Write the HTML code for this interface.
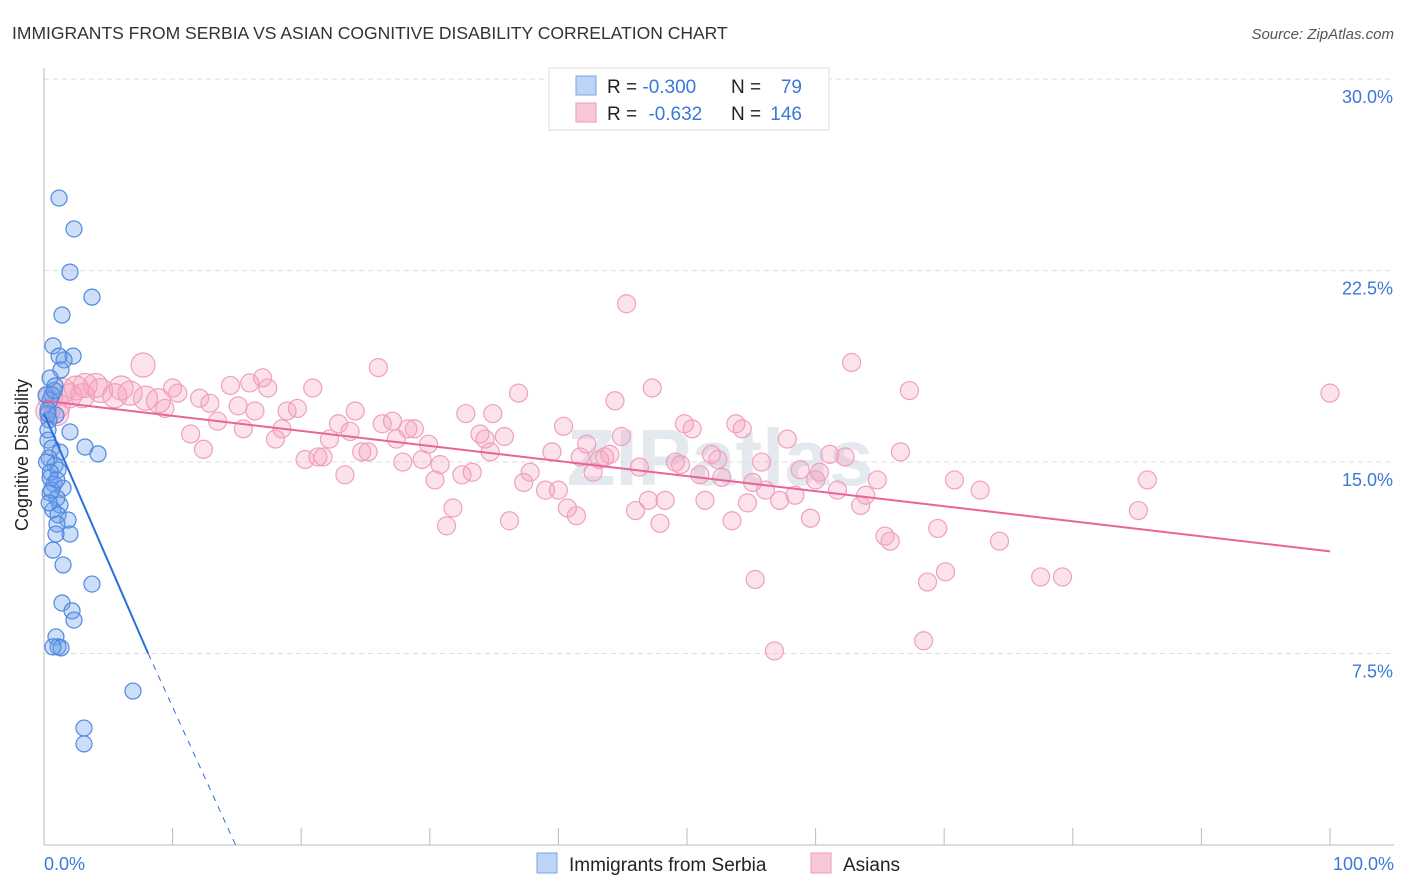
<!DOCTYPE html>
<html><head><meta charset="utf-8"><style>
body{margin:0;background:#fff;font-family:"Liberation Sans",sans-serif;}
svg{display:block}
</style></head><body>
<svg width="1406" height="892" id="chart">
<text x="12" y="39" font-size="17.5" fill="#333">IMMIGRANTS FROM SERBIA VS ASIAN COGNITIVE DISABILITY CORRELATION CHART</text>
<text x="1394" y="39" font-size="15" fill="#555" font-style="italic" text-anchor="end">Source: ZipAtlas.com</text>
<text x="720" y="485" font-size="80" fill="#e4e8ef" text-anchor="middle" font-weight="bold">ZIPatlas</text>
<g id="grid"></g>
<g id="axes"></g>
<g id="trend"></g>
<g id="pts"></g>
<text x="28" y="455" font-size="18" fill="#222" text-anchor="middle" transform="rotate(-90 28 455)">Cognitive Disability</text>
<text x="44" y="870" font-size="18" fill="#3b78d8">0.0%</text>
<text x="1394" y="870" font-size="18" fill="#3b78d8" text-anchor="end">100.0%</text>
<g>
<rect x="549" y="68" width="280" height="62" fill="#fff" stroke="#ddd"/>
<rect x="576" y="76" width="20" height="19" fill="#bcd4f5" stroke="#7aa6e6"/>
<rect x="576" y="103" width="20" height="19" fill="#f9c8d8" stroke="#ee9ab8"/>
<text x="607" y="93" font-size="19" fill="#222">R = <tspan fill="#3b78d8">-0.300</tspan></text>
<text x="731" y="93" font-size="19" fill="#222">N =</text><text x="802" y="93" font-size="19" fill="#3b78d8" text-anchor="end">79</text>
<text x="607" y="120" font-size="19" fill="#222">R = <tspan fill="#3b78d8" dx="6">-0.632</tspan></text>
<text x="731" y="120" font-size="19" fill="#222">N =</text><text x="802" y="120" font-size="19" fill="#3b78d8" text-anchor="end">146</text>
</g>
<g>
<rect x="537" y="853" width="20" height="20" fill="#bcd4f5" stroke="#7aa6e6"/>
<text x="569" y="871" font-size="19" fill="#222">Immigrants from Serbia</text>
<rect x="811" y="853" width="20" height="20" fill="#f9c8d8" stroke="#ee9ab8"/>
<text x="843" y="871" font-size="19" fill="#222">Asians</text>
</g>
</svg>
<script>
const yTicks=[7.5,15,22.5,30];
const yTickLabels=["7.5%","15.0%","22.5%","30.0%"];
const xTicks=[0,10,20,30,40,50,60,70,80,90,100];
const blueX=[1.17,2.33,2.02,3.73,1.40,0.70,1.17,2.26,1.56,1.32,0.47,0.86,0.62,0.47,0.31,0.93,0.39,2.02,0.31,0.62,1.24,3.19,4.20,0.39,0.86,1.09,0.47,0.78,1.48,0.47,1.01,1.24,0.70,1.09,1.87,1.01,2.02,0.93,0.70,1.48,3.73,1.40,2.18,2.33,0.93,1.09,1.32,0.70,6.92,3.11,3.11,0.31,0.16,0.2,0.5,0.6,0.3,0.8,1.0,0.4];
const blueY=[25.34,24.13,22.44,21.46,20.76,19.55,19.15,19.15,19.0,18.61,18.29,17.98,17.63,17.43,17.04,16.84,16.65,16.18,15.86,15.55,15.39,15.59,15.32,15.16,14.88,14.69,14.38,14.14,13.98,13.79,13.59,13.32,13.12,12.93,12.73,12.57,12.18,12.18,11.55,10.97,10.22,9.48,9.17,8.81,8.15,7.76,7.72,7.76,6.03,4.58,3.96,16.26,17.63,15.0,14.6,13.9,16.9,17.8,14.3,13.4];
const pinkX=[1.1,2.0,3.2,4.4,5.5,6.7,7.9,8.9,9.4,10.0,10.4,11.4,12.1,12.4,12.9,13.5,14.5,15.1,15.5,16.0,16.4,17.0,17.4,18.0,18.5,18.9,19.7,20.3,20.9,21.3,21.7,22.2,22.9,23.4,23.8,24.2,24.7,25.2,26.0,26.3,27.1,27.4,27.9,28.3,28.8,29.4,29.9,30.4,30.8,31.3,31.8,32.5,32.8,33.3,33.9,34.3,34.7,34.9,35.8,36.2,36.9,37.3,37.8,39.0,39.5,40.0,40.4,40.7,41.4,41.7,42.2,42.7,43.2,43.6,44.0,44.4,44.9,45.3,46.0,46.3,47.0,47.3,47.9,48.3,49.1,49.5,49.8,50.4,51.0,51.4,51.9,52.4,52.7,53.5,53.8,54.3,54.7,55.1,55.3,55.8,56.1,56.8,57.2,57.8,58.4,58.8,59.6,60.0,60.3,61.1,61.7,62.3,62.8,63.5,63.9,64.8,65.4,65.8,66.6,67.3,68.4,68.7,69.5,70.1,70.8,72.8,74.3,77.5,79.2,85.1,85.8,100.0,0.5,1.5,2.5,1.0,3.0,4.0,0.3,6.0,7.7];
const pinkY=[17.2,17.6,18.0,17.8,17.6,17.7,17.5,17.4,17.1,17.9,17.7,16.1,17.5,15.5,17.3,16.6,18.0,17.2,16.3,18.1,17.0,18.3,17.9,15.9,16.3,17.0,17.1,15.1,17.9,15.2,15.2,15.9,16.5,14.5,16.2,17.0,15.4,15.4,18.7,16.5,16.6,15.9,15.0,16.3,16.3,15.1,15.7,14.3,14.9,12.5,13.2,14.5,16.9,14.6,16.1,15.9,15.4,16.9,16.0,12.7,17.7,14.2,14.6,13.9,15.4,13.9,16.4,13.2,12.9,15.2,15.7,14.6,15.1,15.2,15.3,17.4,16.0,21.2,13.1,14.8,13.5,17.9,12.6,13.5,15.0,14.9,16.5,16.3,14.5,13.5,15.3,15.1,14.4,12.7,16.5,16.3,13.4,14.2,10.4,15.0,13.9,7.6,13.5,15.9,13.7,14.7,12.8,14.3,14.6,15.3,13.9,15.2,18.9,13.3,13.7,14.3,12.1,11.9,15.4,17.8,8.0,10.3,12.4,10.7,14.3,13.9,11.9,10.5,10.5,13.1,14.3,17.7,17.5,17.8,17.9,16.9,17.6,18.0,17.0,17.9,18.8];
const blueTrend=[[0,16.9],[8.1,7.5],[14.9,0]];
const pinkTrend=[[0,17.4],[100,11.5]];

const X=v=>44+v*12.86, Y=v=>845-v*25.53;
const NS="http://www.w3.org/2000/svg";
function mk(t,a,p){const e=document.createElementNS(NS,t);for(const k in a)e.setAttribute(k,a[k]);p.appendChild(e);return e;}
const grid=document.getElementById('grid'),axes=document.getElementById('axes'),trend=document.getElementById('trend'),pts=document.getElementById('pts');
yTicks.forEach((v,i)=>{
 const l=mk('line',{x1:44,x2:1394,y1:Y(v),y2:Y(v),stroke:'#ddd','stroke-dasharray':'5,4'},grid);
 
 
 const t=mk('text',{x:1393,y:Y(v)+24,'font-size':18,fill:'#3b78d8','text-anchor':'end'},axes);
 t.textContent=yTickLabels[i];
 
 
});
mk('line',{x1:44,x2:44,y1:68,y2:845,stroke:'#bbb'},axes);
mk('line',{x1:44,x2:1394,y1:845,y2:845,stroke:'#bbb'},axes);
xTicks.forEach(v=>{
 const l=mk('line',{x1:X(v),x2:X(v),y1:828,y2:845,stroke:'#bbb'},axes);
 
 
});
pinkX.forEach((x,i)=>{
 const c=mk('circle',{cx:X(x),cy:Y(pinkY[i]),r:x<9?12:9,fill:'rgba(244,160,188,0.3)',stroke:'#f0a0bc','stroke-width':1.2},pts);
 
 
});
blueX.forEach((x,i)=>{
 const c=mk('circle',{cx:X(x),cy:Y(blueY[i]),r:8,fill:'rgba(110,160,235,0.35)',stroke:'#4f88e0','stroke-width':1.2},pts);
 
 
});
let b=mk('line',{x1:X(blueTrend[0][0]),y1:Y(blueTrend[0][1]),x2:X(blueTrend[1][0]),y2:Y(blueTrend[1][1]),stroke:'#2a6fdb','stroke-width':2},trend);


b=mk('line',{x1:X(blueTrend[1][0]),y1:Y(blueTrend[1][1]),x2:X(blueTrend[2][0]),y2:Y(blueTrend[2][1]),stroke:'#2a6fdb','stroke-width':1,'stroke-dasharray':'6,6'},trend);


b=mk('line',{x1:X(pinkTrend[0][0]),y1:Y(pinkTrend[0][1]),x2:X(pinkTrend[1][0]),y2:Y(pinkTrend[1][1]),stroke:'#e8649a','stroke-width':2},trend);


pts.parentNode.appendChild(trend);
</script>
</body></html>
